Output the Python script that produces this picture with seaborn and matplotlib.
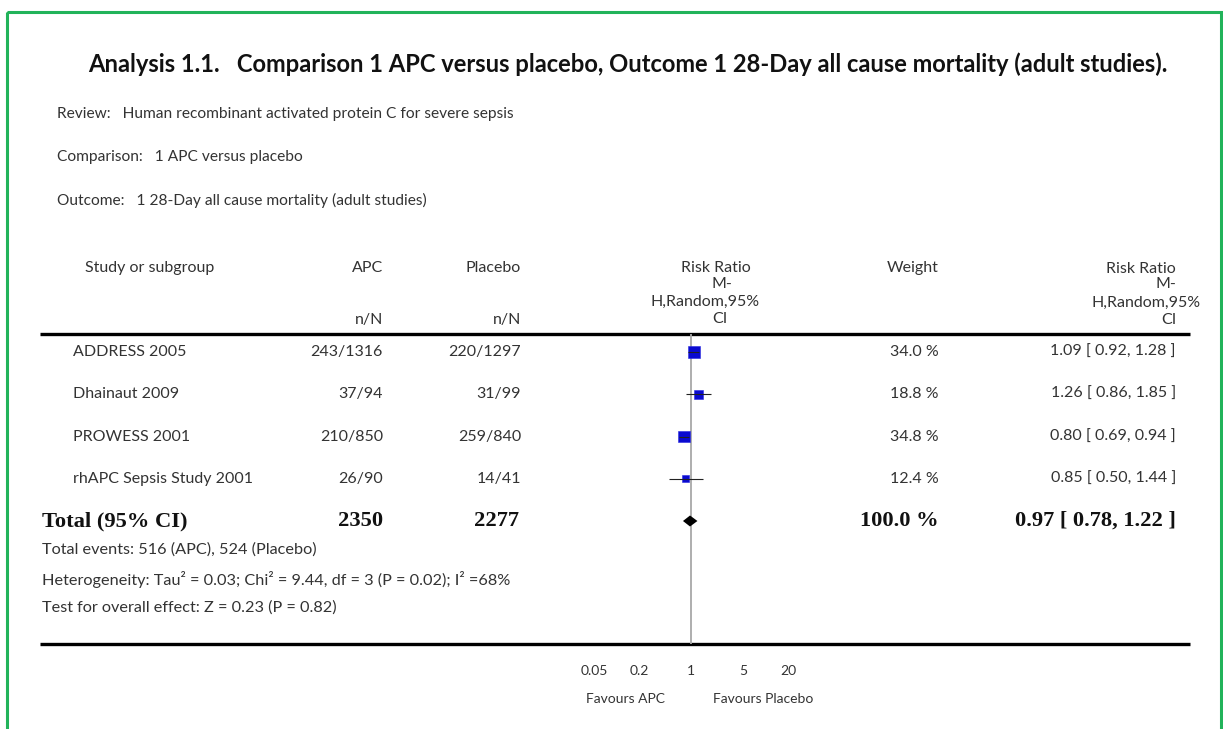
import matplotlib
matplotlib.use("Agg")
import matplotlib.pyplot as plt
from matplotlib.patches import Rectangle
import numpy as np
import pandas as pd
import seaborn as sns

# ---- data -------------------------------------------------------------
studies = ["ADDRESS 2005", "Dhainaut 2009", "PROWESS 2001", "rhAPC Sepsis Study 2001"]
apc_nN = ["243/1316", "37/94", "210/850", "26/90"]
placebo_nN = ["220/1297", "31/99", "259/840", "14/41"]
weights = [34.0, 18.8, 34.8, 12.4]
rr = [1.09, 1.26, 0.80, 0.85]
rr_low = [0.92, 0.86, 0.69, 0.50]
rr_high = [1.28, 1.85, 0.94, 1.44]

total_apc = 2350
total_placebo = 2277
total_rr = 0.97
total_low = 0.78
total_high = 1.22

axis_ticks = [0.05, 0.2, 1, 5, 20]
axis_ticklabels = ["0.05", "0.2", "1", "5", "20"]

title = "Analysis 1.1.   Comparison 1 APC versus placebo, Outcome 1 28-Day all cause mortality (adult studies)."
review = "Review:   Human recombinant activated protein C for severe sepsis"
comparison = "Comparison:   1 APC versus placebo"
outcome = "Outcome:   1 28-Day all cause mortality (adult studies)"
footer = [
    "Total events: 516 (APC), 524 (Placebo)",
    "Heterogeneity: Tau\u00b2 = 0.03; Chi\u00b2 = 9.44, df = 3 (P = 0.02); I\u00b2 =68%",
    "Test for overall effect: Z = 0.23 (P = 0.82)",
]

# ---- styling ----------------------------------------------------------
sns.set_style("white")
plt.rcParams["font.family"] = ["Lato", "DejaVu Sans"]

W, H = 1223, 729
fig = plt.figure(figsize=(W / 100, H / 100), dpi=100)
fig.patch.set_facecolor("white")

# full-page layer in pixel units for the table text and rules
page = fig.add_axes([0, 0, 1, 1])
page.set_xlim(0, W)
page.set_ylim(H, 0)
page.axis("off")

TXT = "#333333"
BODY = 11.5
SMALL = 11.7
SERIF = ["Liberation Serif", "DejaVu Serif"]

ROW0, ROWSTEP = 352, 42.25
def row_y(i):
    return ROW0 + i * ROWSTEP

# green frame
page.add_patch(Rectangle((7, 12), 1214, 800, fill=False, ec="#22b35a", lw=2.2))

page.text(88, 64, title, fontsize=17.1, fontweight="bold", color="#111111",
          ha="left", va="center")
page.text(57, 114, review, fontsize=11.2, color=TXT, va="center")
page.text(57, 157, comparison, fontsize=11.2, color=TXT, va="center")
page.text(57, 200, outcome, fontsize=11.2, color=TXT, va="center")

# column headers
page.text(85, 268, "Study or subgroup", fontsize=BODY, color=TXT, va="center")
page.text(383, 268, "APC", fontsize=BODY, color=TXT, va="center", ha="right")
page.text(521, 268, "Placebo", fontsize=BODY, color=TXT, va="center", ha="right")
page.text(383, 320, "n/N", fontsize=BODY, color=TXT, va="center", ha="right")
page.text(521, 320, "n/N", fontsize=BODY, color=TXT, va="center", ha="right")
for x, txt_, y in [(716, "Risk Ratio", 268), (722, "M-", 284),
                   (705, "H,Random,95%", 302), (720, "CI", 319)]:
    page.text(x, y, txt_, fontsize=BODY, color=TXT, va="center", ha="center")
page.text(939, 268, "Weight", fontsize=BODY, color=TXT, va="center", ha="right")
for x, txt_, y in [(1176, "Risk Ratio", 269), (1176, "M-", 284),
                   (1201, "H,Random,95%", 303), (1176, "CI", 320)]:
    page.text(x, y, txt_, fontsize=BODY, color=TXT, va="center", ha="right")

# rules
page.plot([40, 1190], [334, 334], color="black", lw=2.4, solid_capstyle="butt")
page.plot([40, 1190], [644, 644], color="black", lw=2.4, solid_capstyle="butt")

# study rows
for i, name in enumerate(studies):
    y = row_y(i)
    page.text(73, y, name, fontsize=BODY, color=TXT, va="center")
    page.text(383, y, apc_nN[i], fontsize=BODY, color=TXT, va="center", ha="right")
    page.text(521, y, placebo_nN[i], fontsize=BODY, color=TXT, va="center", ha="right")
    page.text(939, y, f"{weights[i]:.1f} %", fontsize=BODY, color=TXT, va="center", ha="right")
    page.text(1176, y, f"{rr[i]:.2f} [ {rr_low[i]:.2f}, {rr_high[i]:.2f} ]",
              fontsize=BODY, color=TXT, va="center", ha="right")

# pooled row
yt = row_y(len(studies))
bold = dict(fontsize=16.2, fontweight="bold", color="#111111", va="center", family=SERIF)
page.text(42, yt, "Total (95% CI)", ha="left", **bold)
page.text(383, yt, f"{total_apc}", ha="right", **bold)
page.text(519, yt, f"{total_placebo}", ha="right", **bold)
page.text(939, yt, f"{sum(weights):.1f} %", ha="right", **bold)
page.text(1176, yt, f"{total_rr:.2f} [ {total_low:.2f}, {total_high:.2f} ]", ha="right", **bold)

for j, line in enumerate(footer):
    page.text(42, 550 + 29 * j, line, fontsize=SMALL, color=TXT, va="center")

page.text(625, 699, "Favours APC", fontsize=BODY - 1.5, color=TXT, va="center", ha="center")
page.text(763, 699, "Favours Placebo", fontsize=BODY - 1.5, color=TXT, va="center", ha="center")

# ---- forest panel ------------------------------------------------------
fx0, fx1 = 542, 840
fy_top, fy_bot = 334, 644
forest = fig.add_axes([fx0 / W, (H - fy_bot) / H, (fx1 - fx0) / W, (fy_bot - fy_top) / H])
forest.set_facecolor("none")
forest.set_xscale("log")
forest.set_xlim(0.01, 100)
forest.set_ylim((fy_bot - ROW0) / ROWSTEP, (fy_top - ROW0) / ROWSTEP)

df = pd.DataFrame({"study": studies, "rr": rr, "low": rr_low, "high": rr_high,
                   "weight": weights, "row": np.arange(len(studies))})

forest.axvline(1, color="#a8a8a8", lw=1.3, zorder=1)
sns.scatterplot(data=df, x="rr", y="row", size="weight", size_norm=(0, max(weights)),
                sizes=(0, 72), marker="s", color="#0a0ad0", edgecolor="#2a2ae0",
                linewidth=0.4, legend=False, ax=forest, zorder=3)
forest.hlines(df["row"], df["low"], df["high"], color="#222222", lw=0.8, zorder=4)

# pooled diamond
dh = 5.5 / ROWSTEP
ti = len(studies)
forest.fill([total_low, total_rr, total_high, total_rr],
            [ti, ti - dh, ti, ti + dh], color="black", zorder=4, lw=0)

forest.set_xticks(axis_ticks)
forest.set_xticklabels(axis_ticklabels)
forest.minorticks_off()
forest.set_yticks([])
forest.set_xlabel("")
forest.set_ylabel("")
forest.tick_params(axis="x", direction="in", length=6, width=1.3, color="black",
                   pad=15, labelsize=BODY - 1.5, labelcolor=TXT)
for s in forest.spines.values():
    s.set_visible(False)

fig.savefig("out.png", dpi=100, facecolor="white")
